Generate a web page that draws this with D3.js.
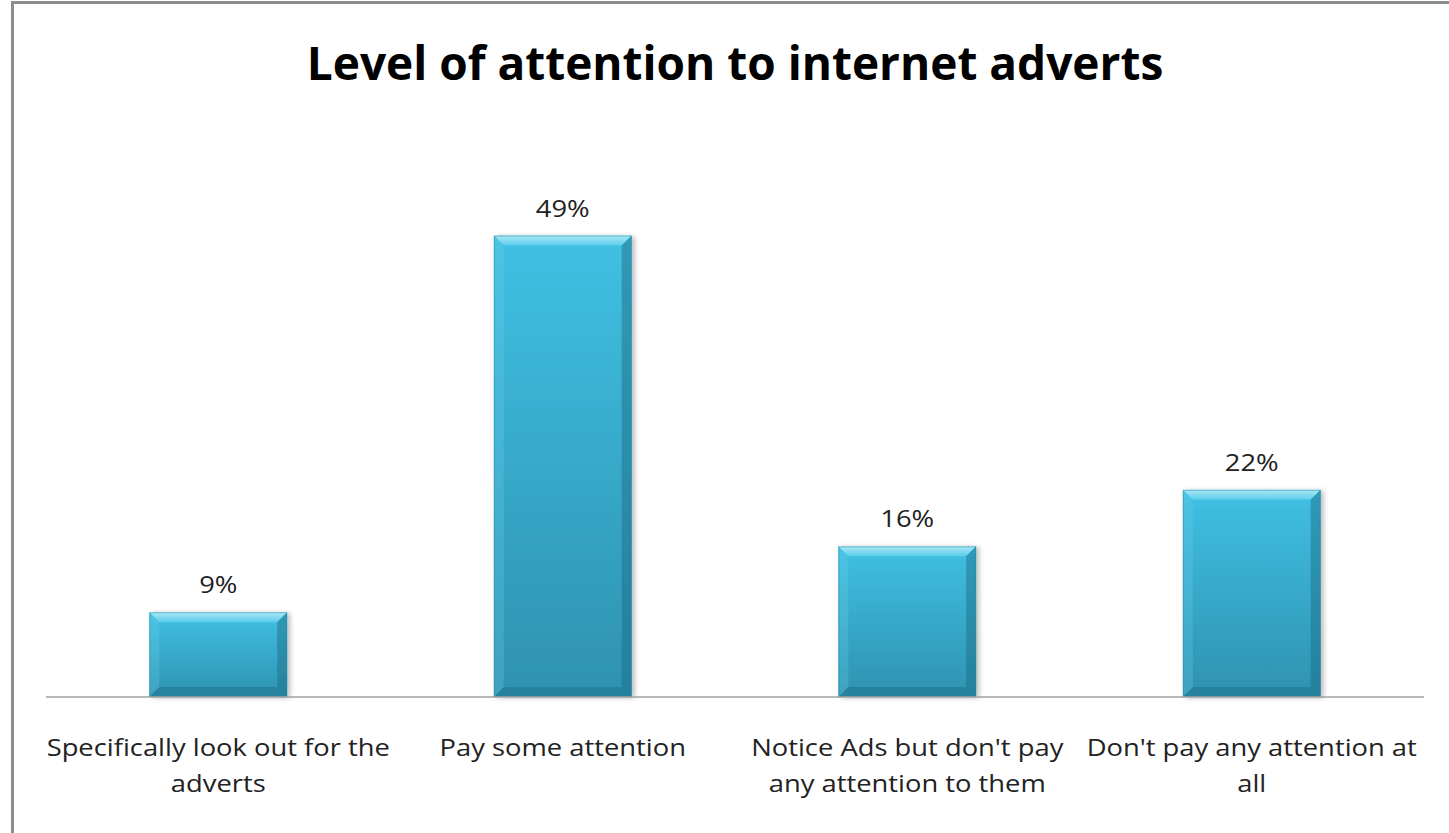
<!DOCTYPE html>
<html>
<head>
<meta charset="utf-8">
<script src="https://cdn.jsdelivr.net/npm/d3@7/dist/d3.min.js"></script>
<style>
  html, body { margin: 0; padding: 0; background: #fff; }
  svg { display: block; }
  text { font-family: "Open Sans", Lato, sans-serif; font-variant-ligatures: none; }
</style>
</head>
<body>
<svg id="chart" width="1449" height="833"></svg>
<script>
// Survey results: level of attention paid to internet adverts
const categories = [
  "Specifically look out for the adverts",
  "Pay some attention",
  "Notice Ads but don't pay any attention to them",
  "Don't pay any attention at all"
];
const categoryLines = [
  ["Specifically look out for the", "adverts"],
  ["Pay some attention"],
  ["Notice Ads but don't pay", "any attention to them"],
  ["Don't pay any attention at", "all"]
];
const values = [9, 49, 16, 22];
const yDomain = [0, 60];
const title = "Level of attention to internet adverts";

const W = 1449, H = 833;
const plot = { left: 46, right: 1424, top: 132, bottom: 697 };
const textStretch = 1.14;   // labels are set slightly wide

const svg = d3.select("#chart");

// Outer chart frame
svg.append("rect")
  .attr("x", 12.5).attr("y", 2.5)
  .attr("width", W + 20).attr("height", H + 20)
  .attr("fill", "#fff")
  .attr("stroke", "#8c8c8c").attr("stroke-width", 3);

const defs = svg.append("defs");
const grad = defs.append("linearGradient")
  .attr("id", "barFill").attr("x1", 0).attr("y1", 0).attr("x2", 0).attr("y2", 1);
grad.append("stop").attr("offset", "0%").attr("stop-color", "#40c0e3");
grad.append("stop").attr("offset", "100%").attr("stop-color", "#2e92b0");

const topGrad = defs.append("linearGradient")
  .attr("id", "topBevel").attr("x1", 0).attr("y1", 0).attr("x2", 0).attr("y2", 1);
topGrad.append("stop").attr("offset", "0%").attr("stop-color", "#c8f2fb");
topGrad.append("stop").attr("offset", "100%").attr("stop-color", "#5fd0ee");

const shadow = defs.append("filter").attr("id", "barShadow")
  .attr("x", "-10%").attr("y", "-10%").attr("width", "130%").attr("height", "120%");
shadow.append("feGaussianBlur").attr("in", "SourceAlpha").attr("stdDeviation", 2.5).attr("result", "b");
shadow.append("feOffset").attr("in", "b").attr("dx", 3).attr("dy", 1).attr("result", "o");
shadow.append("feComponentTransfer").attr("in", "o").attr("result", "s")
  .append("feFuncA").attr("type", "linear").attr("slope", 0.25);
const merge = shadow.append("feMerge");
merge.append("feMergeNode").attr("in", "s");
merge.append("feMergeNode").attr("in", "SourceGraphic");

const x = d3.scaleBand()
  .domain(categories)
  .range([plot.left, plot.right])
  .paddingInner(0.6)
  .paddingOuter(0.3);

const y = d3.scaleLinear().domain(yDomain).range([plot.bottom, plot.top]);

// Title
svg.append("text")
  .attr("x", 735).attr("y", 80)
  .attr("text-anchor", "middle")
  .attr("font-weight", "bold")
  .attr("font-size", 46)
  .attr("fill", "#000")
  .text(title);

// Bars with bevelled edges
const bev = 10;
const bars = svg.append("g").selectAll("g.bar")
  .data(categories.map((c, i) => ({ c, v: values[i] })))
  .join("g").attr("class", "bar")
  .attr("filter", "url(#barShadow)");

bars.each(function(d) {
  const g = d3.select(this);
  const x0 = x(d.c), x1 = x0 + x.bandwidth();
  const y0 = y(d.v), y1 = y(0);
  g.append("rect").attr("x", x0).attr("y", y0)
    .attr("width", x1 - x0).attr("height", y1 - y0)
    .attr("fill", "url(#barFill)");
  const poly = (pts, fill, op) => g.append("polygon")
    .attr("points", pts.map(p => p.join(",")).join(" "))
    .attr("fill", fill).attr("opacity", op);
  // top bevel
  poly([[x0, y0], [x1, y0], [x1 - bev, y0 + bev], [x0 + bev, y0 + bev]], "url(#topBevel)", 0.8);
  // left bevel
  poly([[x0, y0], [x0 + bev, y0 + bev], [x0 + bev, y1 - bev], [x0, y1]], "#6fd3ec", 0.25);
  // right bevel
  poly([[x1, y0], [x1, y1], [x1 - bev, y1 - bev], [x1 - bev, y0 + bev]], "#1d6a82", 0.45);
  // bottom bevel
  poly([[x0, y1], [x1, y1], [x1 - bev, y1 - bev], [x0 + bev, y1 - bev]], "#1d6a82", 0.4);
  g.append("rect").attr("x", x0 + 0.5).attr("y", y0 + 0.5)
    .attr("width", x1 - x0 - 1).attr("height", y1 - y0 - 1)
    .attr("fill", "none").attr("stroke", "#2a8aa6").attr("stroke-width", 1).attr("opacity", 0.5);
});

// Value labels
svg.append("g").selectAll("text")
  .data(categories.map((c, i) => ({ c, v: values[i] })))
  .join("text")
  .attr("transform", d =>
    `translate(${x(d.c) + x.bandwidth() / 2},${y(d.v) - 19}) scale(${textStretch},1)`)
  .attr("text-anchor", "middle")
  .attr("font-size", 24)
  .attr("fill", "#222")
  .text(d => d.v + "%");

// Category axis
const xAxis = svg.append("g")
  .attr("transform", `translate(0,${plot.bottom})`)
  .call(d3.axisBottom(x).tickSize(0).tickFormat(""));
xAxis.select(".domain").attr("stroke", "#a0a0a0").attr("stroke-width", 1.5)
  .attr("d", `M${plot.left},0H${plot.right}`);

// Wrapped category labels
const labels = svg.append("g").selectAll("text")
  .data(categories.map((c, i) => ({ c, lines: categoryLines[i] })))
  .join("text")
  .attr("transform", d =>
    `translate(${x(d.c) + x.bandwidth() / 2},756) scale(${textStretch},1)`)
  .attr("text-anchor", "middle")
  .attr("font-size", 24)
  .attr("fill", "#222");
labels.each(function(d) {
  const t = d3.select(this);
  d.lines.forEach((ln, k) => {
    t.append("tspan")
      .attr("x", 0)
      .attr("y", k * 36)
      .text(ln);
  });
});
</script>
</body>
</html>
